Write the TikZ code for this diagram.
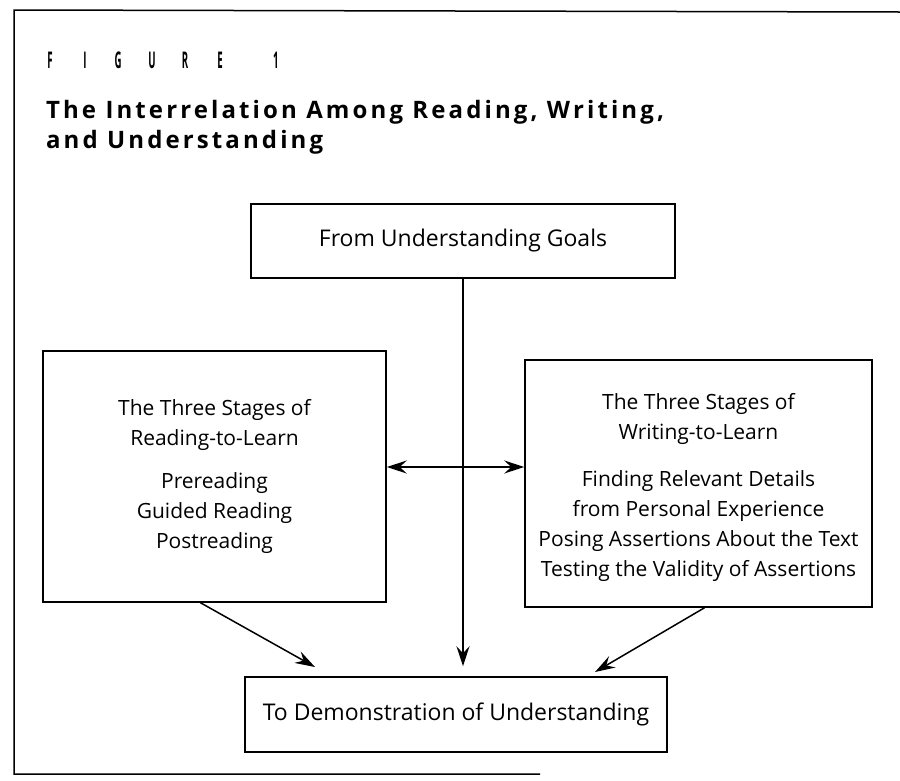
\documentclass[tikz,border=0pt]{standalone}
\usepackage{fontspec}
\setmainfont{Open Sans}
\usetikzlibrary{arrows.meta, positioning}

\begin{document}
\begin{tikzpicture}[x=1pt, y=-1pt, line width=1.5pt,
  >={Stealth[length=20pt, width=13pt, inset=7pt]},
  box/.style={draw, rectangle, align=center, inner sep=0pt, font=\fontsize{21}{30}\selectfont},
  bigbox/.style={box, font=\fontsize{23}{30}\selectfont},
  flow/.style={->},
  capfont/.style={font=\fontsize{24}{28}\selectfont\bfseries\addfontfeatures{LetterSpace=13}}]
\useasboundingbox (0,0) rectangle (900,780);
\def\listgap{13pt}

%Frame
\coordinate (f1) at (900,12);
\coordinate (f2) at (14,10);
\coordinate (f3) at (14,774);
\coordinate (f4) at (540,774);
\draw (f1) -- (f2) -- (f3) -- (f4);

%Caption
\foreach \x/\c in {50/F,85/I,118/G,152/U,185/R,220/E,276/1}
  \node (fig\c) at (\x,60) {\scalebox{0.42}[1]{\fontsize{23}{23}\selectfont\bfseries \c}};
\node (title1) at (42,118) [anchor=base west, capfont] {The Interrelation Among Reading, Writing,};
\node (title2) at (42,148) [anchor=base west, capfont] {and Understanding};

%Boxes
\node (goals) at (463,241) [bigbox, minimum width=424, minimum height=74] {From Understanding Goals};
\node (reading) at (214.5,476.5) [box, minimum width=343, minimum height=251] {The Three Stages of\\Reading-to-Learn\\[\listgap]Prereading\\Guided Reading\\Postreading};
\node (writing) at (698.5,483.5) [box, minimum width=347, minimum height=247] {\\[-6pt]The Three Stages of\\Writing-to-Learn\\[17pt]Finding Relevant Details\\from Personal Experience\\Posing Assertions About the Text\\Testing the Validity of Assertions};
\node (demo) at (456,714.5) [bigbox, minimum width=422, minimum height=75] {To Demonstration of Understanding};

%Arrows
\coordinate (midrow) at (0,467);
\coordinate (ltip) at (315,667);
\coordinate (rtip) at (595,672);
\draw[<->] (reading.east |- midrow) -- (writing.west |- midrow);
\draw[flow, shorten >=10pt] (goals) -- (goals |- demo.north);
\draw[flow] ([xshift=-14pt]reading.south) -- (ltip);
\draw[flow] ([xshift=6pt]writing.south) -- (rtip);

\end{tikzpicture}
\end{document}
